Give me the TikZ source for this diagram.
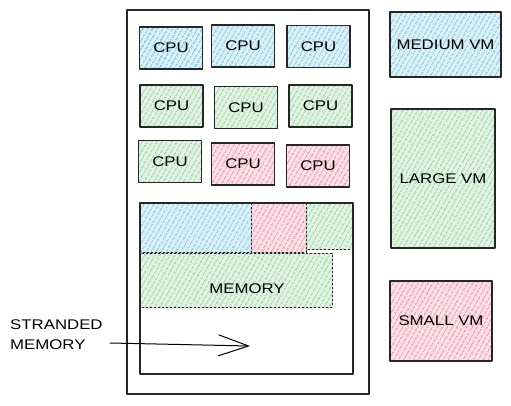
\documentclass[tikz,border=0pt]{standalone}
\usepackage{fontspec}
\newfontfamily\sketchfont[FakeStretch=1.2]{Liberation Sans}
\usetikzlibrary{patterns.meta,arrows.meta}
\definecolor{vmblue}{RGB}{90,185,220}
\definecolor{vmgreen}{RGB}{120,200,130}
\definecolor{vmpink}{RGB}{235,115,150}
\begin{document}
\begin{tikzpicture}[x=1pt, y=-1pt, font=\sketchfont\fontsize{14}{20}\selectfont, line join=round, line cap=round,
	box/.style={draw=black!85, line width=1.1pt, inner sep=0pt},
	cpu/.style={box, minimum width=63pt, minimum height=42pt},
	hatch/.style={preaction={fill=#1!22}, pattern={Lines[angle=60,distance=4pt,line width=1pt]}, pattern color=#1},
	memdash/.style={draw=black!85, line width=0.8pt, dash pattern=on 2pt off 2pt}]
	\useasboundingbox (0,0) rectangle (511,405);
	% server
	\draw[box] (127,10) rectangle (369,394);
	% cpus
	\node[cpu, hatch=vmblue] (c11) at (171,48) {CPU};
	\node[cpu, hatch=vmblue] (c12) at (243,46) {CPU};
	\node[cpu, hatch=vmblue] (c13) at (318.5,46.5) {CPU};
	\node[cpu, hatch=vmgreen] (c21) at (171.5,106) {CPU};
	\node[cpu, hatch=vmgreen] (c22) at (246,107.5) {CPU};
	\node[cpu, hatch=vmgreen] (c23) at (320.5,106) {CPU};
	\node[cpu, hatch=vmgreen] (c31) at (170,161.5) {CPU};
	\node[cpu, hatch=vmpink] (c32) at (243,164) {CPU};
	\node[cpu, hatch=vmpink] (c33) at (318,166) {CPU};
	% memory
	\draw[memdash, hatch=vmblue] (140,203) rectangle (251,252);
	\draw[memdash, hatch=vmpink] (251,203) rectangle (306,252);
	\draw[memdash, hatch=vmgreen] (306,203) rectangle (352,249);
	\draw[memdash, hatch=vmgreen] (140,253) rectangle (332,307);
	\draw[box] (140,203) rectangle (353,374);
	\node (memlbl) at (247,289) {MEMORY};
	% stranded
	\node[anchor=west, align=left, inner sep=0pt] (strand) at (10,335) {STRANDED\\MEMORY};
	\coordinate (strandtail) at (110,343);
	\coordinate (strandtip) at (250,346);
	\draw[line width=1pt, -{Straight Barb[length=30pt,width=21pt,line width=1pt]}] (strandtail) -- (strandtip);
	% vms
	\node[box, hatch=vmblue, minimum width=111pt, minimum height=65pt] (medvm) at (445.5,44.5) {MEDIUM VM};
	\node[box, hatch=vmgreen, minimum width=104pt, minimum height=139pt] (largevm) at (443,178.5) {LARGE VM};
	\node[box, hatch=vmpink, minimum width=102pt, minimum height=80pt] (smallvm) at (441,321) {SMALL VM};
\end{tikzpicture}
\end{document}
